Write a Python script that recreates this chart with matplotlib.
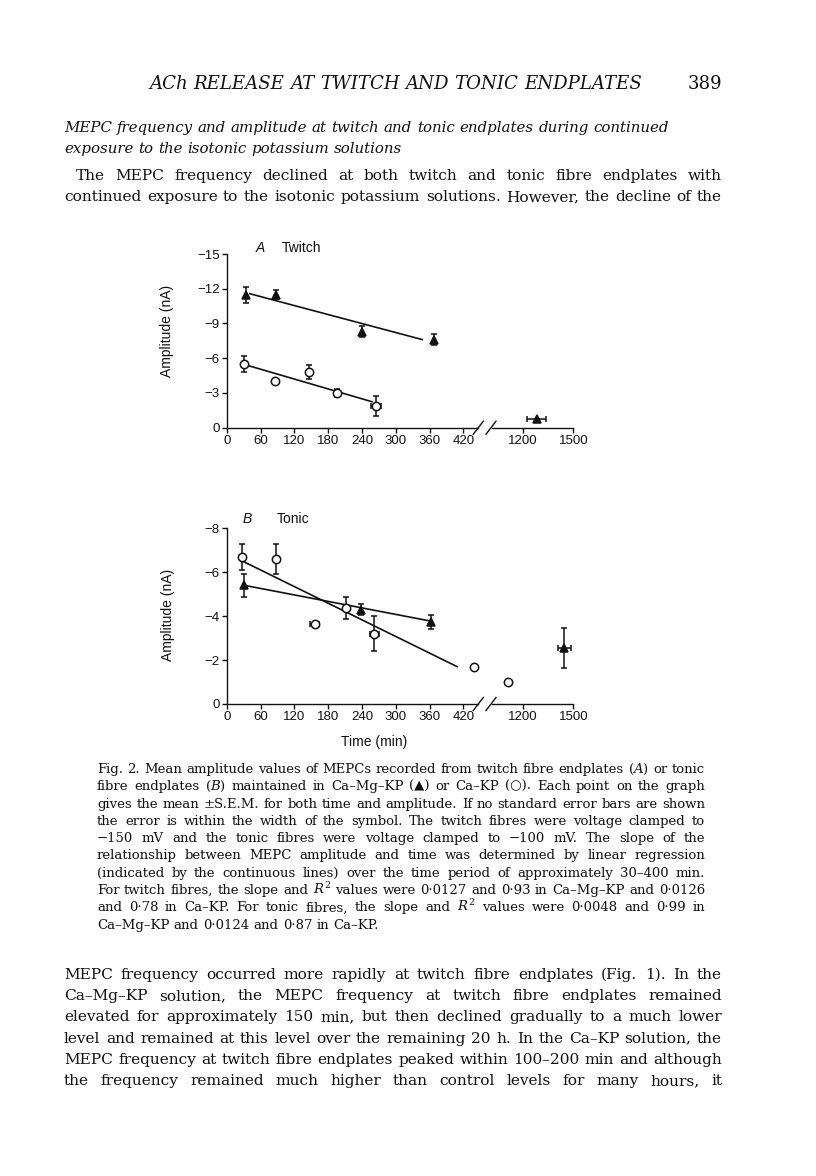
import matplotlib
matplotlib.use("Agg")
import matplotlib.pyplot as plt
from matplotlib.lines import Line2D

# ---- data (time in min, amplitude in nA) ----
# panel A: twitch
a_tri_t = [34, 87, 240, 368, 1281]
a_tri_amp = [-11.45, -11.5, -8.3, -7.6, -0.75]
a_tri_aerr = [0.7, 0.4, 0.5, 0.45, 0]
a_tri_terr = [0, 0, 0, 0, 56]
a_circ_t = [30, 86, 146, 196, 265]
a_circ_amp = [-5.5, -4.05, -4.82, -3.0, -1.87]
a_circ_aerr = [0.7, 0, 0.6, 0.35, 0.9]
a_circ_terr = [0, 0, 0, 0, 9]
a_tri_fit_t = [41, 347]
a_tri_fit_amp = [-11.57, -7.61]
a_circ_fit_t = [30, 258]
a_circ_fit_amp = [-5.48, -2.24]

# panel B: tonic
b_tri_t = [30, 238, 363, 1447]
b_tri_amp = [-5.41, -4.3, -3.75, -2.56]
b_tri_aerr = [0.52, 0.25, 0.32, 0.9]
b_tri_terr = [0, 0, 0, 40]
b_circ_t = [27, 88, 156, 212, 262, 439, 1112]
b_circ_amp = [-6.7, -6.6, -3.65, -4.35, -3.2, -1.7, -1.0]
b_circ_aerr = [0.6, 0.7, 0, 0.5, 0.8, 0, 0]
b_circ_terr = [0, 0, 8, 0, 8, 0, 0]
b_tri_fit_t = [30, 363]
b_tri_fit_amp = [-5.41, -3.77]
b_circ_fit_t = [27, 409]
b_circ_fit_amp = [-6.52, -1.70]

left_xticks = [0, 60, 120, 180, 240, 300, 360, 420]
right_xticks = [1200, 1500]
a_yticks = [0, -3, -6, -9, -12, -15]
b_yticks = [0, -2, -4, -6, -8]

# ---- page text ----
header = "ACh RELEASE AT TWITCH AND TONIC ENDPLATES"
page_no = "389"
subhead = ["MEPC frequency and amplitude at twitch and tonic endplates during continued",
           "exposure to the isotonic potassium solutions"]
para1 = ["The MEPC frequency declined at both twitch and tonic fibre endplates with",
         "continued exposure to the isotonic potassium solutions. However, the decline of the"]
caption = [
    "Fig. 2. Mean amplitude values of MEPCs recorded from twitch fibre endplates ($A$) or tonic",
    "fibre endplates ($B$) maintained in Ca\u2013Mg\u2013KP (\u25B2) or Ca\u2013KP (\u25CB). Each point on the graph",
    "gives the mean \u00B1S.E.M. for both time and amplitude. If no standard error bars are shown",
    "the error is within the width of the symbol. The twitch fibres were voltage clamped to",
    "\u2212150 mV and the tonic fibres were voltage clamped to \u2212100 mV. The slope of the",
    "relationship between MEPC amplitude and time was determined by linear regression",
    "(indicated by the continuous lines) over the time period of approximately 30\u2013400 min.",
    "For twitch fibres, the slope and $R^2$ values were 0\u00B70127 and 0\u00B793 in Ca\u2013Mg\u2013KP and 0\u00B70126",
    "and 0\u00B778 in Ca\u2013KP. For tonic fibres, the slope and $R^2$ values were 0\u00B70048 and 0\u00B799 in",
    "Ca\u2013Mg\u2013KP and 0\u00B70124 and 0\u00B787 in Ca\u2013KP.",
]
para2 = [
    "MEPC frequency occurred more rapidly at twitch fibre endplates (Fig. 1). In the",
    "Ca\u2013Mg\u2013KP solution, the MEPC frequency at twitch fibre endplates remained",
    "elevated for approximately 150 min, but then declined gradually to a much lower",
    "level and remained at this level over the remaining 20 h. In the Ca\u2013KP solution, the",
    "MEPC frequency at twitch fibre endplates peaked within 100\u2013200 min and although",
    "the frequency remained much higher than control levels for many hours, it",
]

INK = "#111111"
SERIF = ["DejaVu Serif", "DejaVu Sans"]
SANS = ["Liberation Sans", "DejaVu Sans"]
plt.rcParams["font.family"] = SANS
plt.rcParams["mathtext.fontset"] = "dejavuserif"

W, H = 816, 1176
fig = plt.figure(figsize=(W / 100, H / 100), dpi=100)
fig.patch.set_facecolor("white")
renderer = fig.canvas.get_renderer()


def px(x, y):
    return (x / W, 1 - y / H)


def width_of(s, size, style="normal"):
    t = fig.text(0, 0, s, fontsize=size, style=style, family=SERIF)
    w = t.get_window_extent(renderer).width
    t.remove()
    return w


def space_of(size, style="normal"):
    return width_of("a a", size, style) - width_of("aa", size, style)


def natural(s, size, style="normal"):
    words = s.split(" ")
    return sum(width_of(w, size, style) for w in words) + (len(words) - 1) * space_of(size, style)


def fit(lines, widths, style="normal"):
    # biggest size at which every line still fits its width
    return min(10 * w / natural(s, 10, style) for s, w in zip(lines, widths))


def put_line(s, x0, x1, yc, size, style="normal", justify=True):
    words = s.split(" ")
    arts = [fig.text(0, 0, w, fontsize=size, style=style, family=SERIF,
                     va="baseline", color=INK) for w in words]
    ws = [a.get_window_extent(renderer).width for a in arts]
    if justify and len(words) > 1:
        gap = (x1 - x0 - sum(ws)) / (len(words) - 1)
    else:
        gap = space_of(size, style)
    base = yc + 0.3 * size * 100 / 72
    x = x0
    for a, w in zip(arts, ws):
        a.set_position(px(x, base))
        x += w + gap


# header
hs = fit([header], [492], "italic")
put_line(header, 149, 641, 84, hs, "italic", justify=False)
fig.text(*px(722, 84 + 0.3 * hs * 100 / 72), page_no, fontsize=hs, family=SERIF,
         ha="right", va="baseline", color=INK)

# italic subheading
ss = fit(subhead[:1], [606], "italic")
for i, s in enumerate(subhead):
    put_line(s, 64, 670, 127 + i * 21.5, ss, "italic", justify=False)

# first paragraph
L, R = 64, 722
bs = fit(para1 + para2, [R - 76] + [R - L] * (len(para1) - 1 + len(para2)))
for i, s in enumerate(para1):
    put_line(s, 76 if i == 0 else L, R, 175 + i * 21.5, bs)

# body after caption
for i, s in enumerate(para2):
    put_line(s, L, R, 974 + i * 21.3, bs)

# caption
CL, CR = 97, 705
cs = fit(caption[:-1], [CR - CL] * (len(caption) - 1))
for i, s in enumerate(caption):
    put_line(s, CL, CR, 769 + i * 17.3, cs, justify=(i < len(caption) - 1))


# ---- the two graphs ----
def panel(top, bottom, yticks):
    h = (bottom - top) / H
    axL = fig.add_axes([226.7 / W, 1 - bottom / H, (478 - 226.7) / W, h])
    axR = fig.add_axes([492 / W, 1 - bottom / H, (573.3 - 492) / W, h])
    for ax in (axL, axR):
        ax.set_facecolor("none")
        ax.spines[["top", "right"]].set_visible(False)
        for sp in ax.spines.values():
            sp.set_linewidth(1.0)
            sp.set_color(INK)
        ax.set_ylim(0, yticks[-1])
        ax.tick_params(direction="out", length=3.5, width=1.0, pad=1.5,
                       labelsize=9.5, colors=INK)
    axL.set_xlim(0, 446)
    axL.set_xticks(left_xticks)
    axL.set_yticks(yticks)
    axL.set_yticklabels([f"\u2212{-v}" if v else "0" for v in yticks])
    axR.set_xlim(1015, 1500)
    axR.set_xticks(right_xticks)
    axR.spines["left"].set_visible(False)
    axR.set_yticks([])
    # axis break marks
    for c in (478.3, 491):
        fig.add_artist(Line2D([(c - 5) / W, (c + 5) / W],
                              [1 - (bottom + 6.5) / H, 1 - (bottom - 6.5) / H],
                              color=INK, lw=1.0))
    return axL, axR


def series(axes, t, amp, aerr, terr, marker, ms, filled):
    axL, axR = axes
    for ax, side in ((axL, 0), (axR, 1)):
        idx = [i for i, v in enumerate(t) if (v >= 700) == bool(side)]
        if not idx:
            continue
        yi = [i for i in idx if aerr[i] > 0]
        if yi:
            ax.errorbar([t[i] for i in yi], [amp[i] for i in yi], yerr=[aerr[i] for i in yi],
                        fmt="none", ecolor=INK, elinewidth=1.1, capsize=2.4, capthick=1.1, zorder=2)
        xi = [i for i in idx if terr[i] > 0]
        if xi:
            ax.errorbar([t[i] for i in xi], [amp[i] for i in xi], xerr=[terr[i] for i in xi],
                        fmt="none", ecolor=INK, elinewidth=1.1, capsize=2.4, capthick=1.1, zorder=2)
        ax.plot([t[i] for i in idx], [amp[i] for i in idx], ls="none", marker=marker, ms=ms,
                mfc=INK if filled else "white", mec=INK, mew=1.1, zorder=3, clip_on=False)


axA = panel(254, 427.7, a_yticks)
axA[0].plot(a_tri_fit_t, a_tri_fit_amp, color=INK, lw=1.2)
axA[0].plot(a_circ_fit_t, a_circ_fit_amp, color=INK, lw=1.2)
series(axA, a_tri_t, a_tri_amp, a_tri_aerr, a_tri_terr, "^", 5.5, True)
series(axA, a_circ_t, a_circ_amp, a_circ_aerr, a_circ_terr, "o", 6, False)

axB = panel(528.3, 704, b_yticks)
axB[0].plot(b_tri_fit_t, b_tri_fit_amp, color=INK, lw=1.2)
axB[0].plot(b_circ_fit_t, b_circ_fit_amp, color=INK, lw=1.2, clip_on=False)
series(axB, b_tri_t, b_tri_amp, b_tri_aerr, b_tri_terr, "^", 5.5, True)
series(axB, b_circ_t, b_circ_amp, b_circ_aerr, b_circ_terr, "o", 6, False)

# panel titles and axis labels
fig.text(*px(260, 248), "A", style="italic", fontsize=10, va="center", ha="center", color=INK)
fig.text(*px(281.5, 248), "Twitch", fontsize=10, va="center", color=INK)
fig.text(*px(247, 519), "B", style="italic", fontsize=10, va="center", ha="center", color=INK)
fig.text(*px(277, 519), "Tonic", fontsize=10, va="center", color=INK)
fig.text(*px(167, 331), "Amplitude (nA)", rotation=90, fontsize=10, ha="center", va="center", color=INK)
fig.text(*px(168, 615), "Amplitude (nA)", rotation=90, fontsize=10, ha="center", va="center", color=INK)
fig.text(*px(374, 742), "Time (min)", fontsize=10, ha="center", va="center", color=INK)

fig.savefig("out.png", dpi=100, facecolor="white")
